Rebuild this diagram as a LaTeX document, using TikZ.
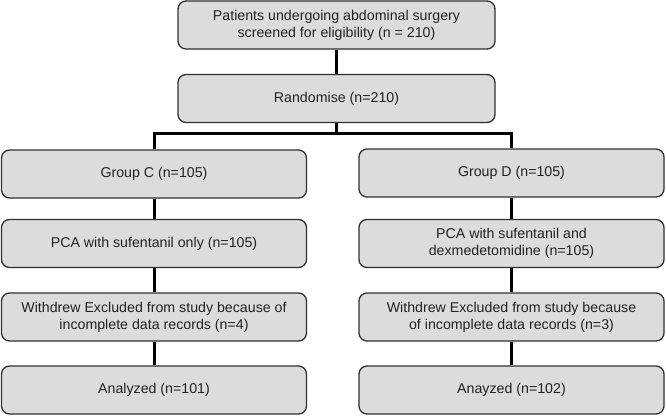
\documentclass[tikz,border=0pt]{standalone}
\usepackage{fontspec}
\setmainfont{Liberation Sans}
\definecolor{boxfill}{HTML}{DCDCDC}
\definecolor{boxline}{HTML}{303030}
\definecolor{txt}{HTML}{222222}
\tikzset{
  box/.style={draw=boxline, fill=boxfill, rounded corners=8pt, line width=1.3pt,
    minimum height=48pt, align=center, inner sep=0pt, text=txt,
    font=\fontsize{14.2}{17}\selectfont},
  conn/.style={line width=3pt, draw=black}
}
\begin{document}
\begin{tikzpicture}[x=1pt,y=-1pt]
\useasboundingbox (0,0) rectangle (666,415);
\node[box, minimum width=317pt] (screen) at (336.5,25) {Patients undergoing abdominal surgery\\screened for eligibility (n = 210)};
\node[box, minimum width=317pt] (rand) at (336.5,98.5) {Randomise (n=210)};
\node[box, minimum width=305pt] (gc) at (154,174) {Group C (n=105)};
\node[box, minimum width=305pt] (gd) at (511.5,173) {Group D (n=105)};
\node[box, minimum width=305pt] (pc) at (154,243.5) {PCA with sufentanil only (n=105)};
\node[box, minimum width=305pt] (pd) at (511.5,243.5) {PCA with sufentanil and\\dexmedetomidine (n=105)};
\node[box, minimum width=305pt] (wc) at (154,317) {Withdrew Excluded from study because of\\incomplete data records (n=4)};
\node[box, minimum width=305pt] (wd) at (511.5,317) {Withdrew Excluded from study because\\of incomplete data records (n=3)};
\node[box, minimum width=305pt] (ac) at (154,390) {Analyzed (n=101)};
\node[box, minimum width=305pt] (ad) at (511.5,390) {Anayzed (n=102)};
\coordinate (bar) at (336.5,133);
\draw[conn] (screen.south) -- (rand.north);
\draw[conn] (rand.south) -- (bar);
\draw[conn] (gc.north) |- (bar) -| (gd.north);
\draw[conn] (gc.south) -- (pc.north);
\draw[conn] (pc.south) -- (wc.north);
\draw[conn] (wc.south) -- (ac.north);
\draw[conn] (gd.south) -- (pd.north);
\draw[conn] (pd.south) -- (wd.north);
\draw[conn] (wd.south) -- (ad.north);
\end{tikzpicture}
\end{document}
